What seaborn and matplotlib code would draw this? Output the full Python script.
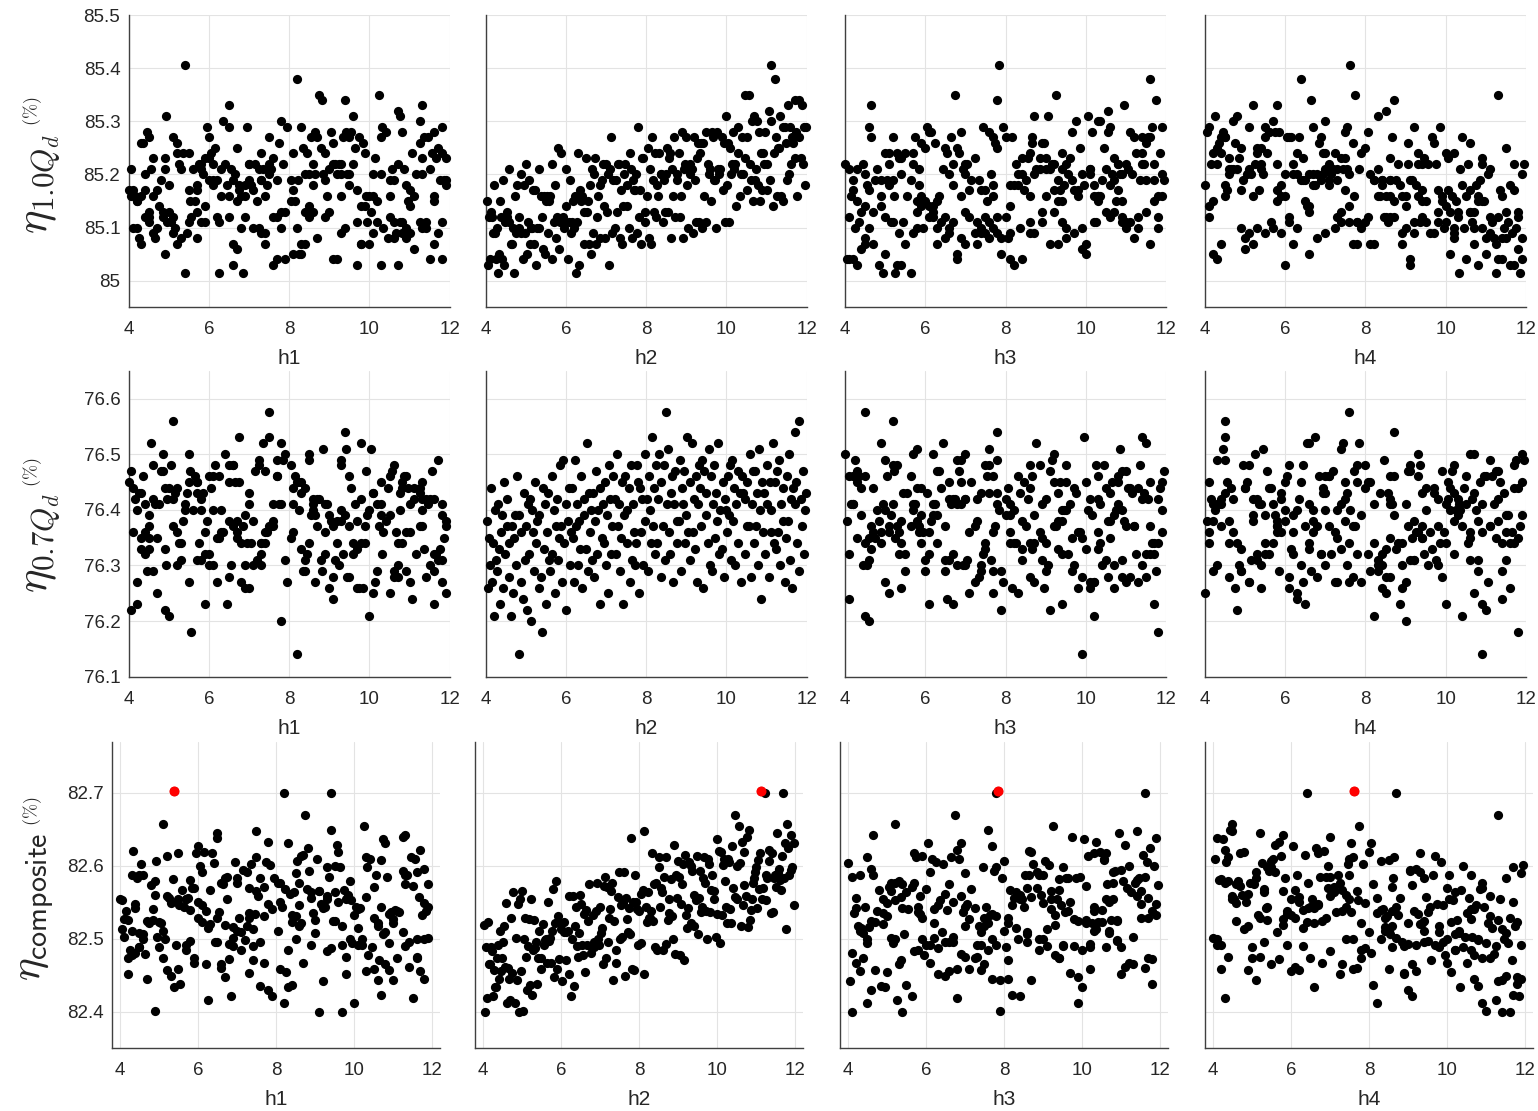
import numpy as np
import pandas as pd
import matplotlib
matplotlib.use("Agg")
import matplotlib.pyplot as plt
import seaborn as sns

# ---- sample data (one row per design sample) ----
h1 = [6.7, 9.7, 4.5, 11.5, 8.4, 6.2, 10.8, 5.0, 9.3, 7.9,
      10.9, 5.40, 8.3, 4.2, 8.9, 11.8, 7.0, 10.3, 5.9, 7.6,
      8.6, 11.4, 5.3, 10.0, 6.6, 4.7, 6.25, 10.5, 7.3, 9.5,
      8.2, 6.9, 11.0, 4.4, 9.1, 5.7, 11.7, 7.5, 4.9, 10.2,
      6.0, 9.8, 7.8, 11.3, 4.1, 8.4, 5.5, 10.7, 7.1, 9.0,
      9.4, 6.5, 5.55, 11.1, 4.3, 8.1, 11.6, 6.3, 10.1, 7.2,
      4.6, 7.7, 9.6, 5.8, 11.9, 8.7, 5.1, 8.8, 6.7, 10.6,
      9.9, 5.5, 8.5, 6.8, 11.0, 4.05, 9.2, 11.25, 6.1, 7.4,
      10.8, 8.05, 4.2, 9.3, 6.85, 11.8, 5.2, 7.6, 9.7, 5.65,
      6.9, 11.6, 9.0, 4.9, 7.8, 10.2, 4.3, 10.9, 8.25, 5.8,
      5.45, 9.5, 11.9, 7.4, 4.4, 10.0, 6.45, 10.45, 6.2, 8.6,
      8.5, 5.7, 10.7, 4.5, 10.1, 6.6, 11.5, 9.35, 5.1, 7.7,
      11.4, 7.3, 4.85, 9.1, 7.0, 10.6, 4.7, 8.3, 5.9, 10.3,
      6.1, 9.9, 8.6, 4.1, 11.8, 7.25, 5.3, 8.9, 11.0, 7.1,
      9.2, 4.6, 6.5, 10.5, 8.1, 5.2, 11.3, 6.0, 7.9, 9.7,
      4.15, 8.35, 10.9, 6.3, 9.8, 7.5, 11.9, 5.0, 8.9, 6.5,
      7.05, 11.1, 5.5, 9.45, 11.3, 4.5, 8.05, 5.7, 7.5, 9.65,
      10.05, 5.9, 8.45, 4.25, 10.85, 6.8, 11.45, 4.85, 9.3, 7.3,
      5.35, 7.7, 11.6, 9.55, 4.65, 10.55, 5.75, 8.55, 6.75, 10.35,
      9.15, 6.65, 4.55, 10.65, 8.7, 11.75, 6.25, 10.15, 7.75, 5.05,
      6.05, 11.25, 7.25, 9.85, 4.05, 8.65, 10.75, 5.25, 8.85, 6.55,
      8.15, 4.45, 10.3, 6.6, 11.85, 5.15, 9.05, 7.35, 11.15, 5.6,
      11.35, 6.75, 9.1, 4.95, 10.75, 7.45, 4.35, 9.95, 6.15, 8.4,
      7.85, 10.4, 4.9, 9.25, 4.75, 11.55, 6.95, 10.1, 8.65, 6.0,
      5.85, 8.75, 11.65, 4.0, 9.5, 10.25, 6.4, 10.6, 7.8, 5.52,
      9.6, 4.8, 7.55, 11.25, 6.9, 9.42, 4.2, 11.05, 5.7, 8.1,
      7.0, 11.6, 9.3, 4.4, 10.7, 8.22, 6.35, 5.40, 9.8, 7.3,
      8.20, 4.5, 9.92, 6.7, 11.7, 4.92, 8.95, 5.95, 10.95, 7.95,
      4.3, 10.5, 6.5, 8.5, 11.8, 5.8, 9.75, 5.2, 9.40, 7.6,
      10.8, 7.4, 5.10, 8.82, 4.6, 11.3, 7.15, 10.32, 6.1, 8.3]

h2 = [4.02, 4.05, 4.07, 4.10, 4.13, 4.15, 4.18, 4.21, 4.23, 4.26,
      4.28, 4.30, 4.33, 4.36, 4.38, 4.41, 4.44, 4.46, 4.49, 4.52,
      4.54, 4.57, 4.59, 4.62, 4.65, 4.67, 4.70, 4.73, 4.75, 4.78,
      4.82, 4.84, 4.87, 4.89, 4.92, 4.95, 4.97, 5.00, 5.03, 5.05,
      5.08, 5.10, 5.13, 5.16, 5.18, 5.21, 5.24, 5.26, 5.29, 5.32,
      5.34, 5.37, 5.40, 5.42, 5.45, 5.48, 5.50, 5.53, 5.56, 5.58,
      5.61, 5.64, 5.66, 5.69, 5.72, 5.74, 5.77, 5.80, 5.82, 5.85,
      5.88, 5.91, 5.93, 5.96, 5.99, 6.01, 6.04, 6.07, 6.09, 6.12,
      6.14, 6.17, 6.20, 6.22, 6.25, 6.28, 6.30, 6.33, 6.36, 6.38,
      6.41, 6.44, 6.46, 6.49, 6.52, 6.54, 6.57, 6.60, 6.62, 6.65,
      6.68, 6.70, 6.73, 6.76, 6.78, 6.81, 6.84, 6.86, 6.89, 6.92,
      6.94, 6.97, 7.00, 7.02, 7.05, 7.08, 7.10, 7.13, 7.16, 7.18,
      7.21, 7.24, 7.26, 7.29, 7.32, 7.34, 7.37, 7.40, 7.42, 7.45,
      7.48, 7.51, 7.53, 7.56, 7.59, 7.61, 7.64, 7.67, 7.69, 7.72,
      7.74, 7.77, 7.80, 7.82, 7.85, 7.88, 7.90, 7.93, 7.96, 7.98,
      8.01, 8.04, 8.06, 8.09, 8.12, 8.14, 8.17, 8.20, 8.22, 8.25,
      8.28, 8.30, 8.33, 8.36, 8.38, 8.41, 8.44, 8.46, 8.50, 8.52,
      8.54, 8.57, 8.60, 8.62, 8.65, 8.68, 8.70, 8.73, 8.76, 8.78,
      8.81, 8.84, 8.86, 8.89, 8.92, 8.94, 8.97, 9.00, 9.02, 9.05,
      9.08, 9.10, 9.13, 9.16, 9.18, 9.21, 9.24, 9.26, 9.29, 9.32,
      9.34, 9.37, 9.40, 9.42, 9.45, 9.48, 9.50, 9.53, 9.56, 9.58,
      9.61, 9.64, 9.66, 9.69, 9.72, 9.74, 9.77, 9.80, 9.82, 9.85,
      9.88, 9.91, 9.93, 9.96, 9.99, 10.01, 10.04, 10.07, 10.09, 10.12,
      10.14, 10.17, 10.20, 10.22, 10.25, 10.28, 10.30, 10.33, 10.36, 10.38,
      10.41, 10.45, 10.47, 10.50, 10.52, 10.55, 10.58, 10.60, 10.63, 10.66,
      10.68, 10.70, 10.73, 10.76, 10.78, 10.81, 10.84, 10.86, 10.89, 10.92,
      10.94, 10.97, 11.00, 11.02, 11.05, 11.08, 11.10, 11.12, 11.15, 11.18,
      11.22, 11.24, 11.26, 11.29, 11.32, 11.34, 11.37, 11.40, 11.42, 11.45,
      11.48, 11.50, 11.53, 11.56, 11.58, 11.61, 11.64, 11.66, 11.70, 11.72,
      11.74, 11.77, 11.80, 11.82, 11.85, 11.88, 11.90, 11.93, 11.96, 11.98]

h3 = [9.3, 5.4, 10.6, 6.8, 4.7, 11.3, 7.5, 10.2, 5.7, 8.4,
      7.4, 4.95, 10.0, 11.7, 6.1, 8.1, 10.7, 4.3, 9.4, 6.5,
      7.0, 11.1, 9.0, 4.5, 11.6, 7.7, 5.25, 5.9, 9.7, 8.3,
      9.9, 6.2, 8.7, 11.9, 4.1, 10.6, 6.6, 9.2, 7.9, 5.2,
      11.5, 7.3, 4.6, 9.5, 7.1, 5.5, 10.8, 8.2, 5.8, 10.1,
      6.3, 8.6, 11.8, 4.4, 10.3, 6.8, 9.4, 4.9, 7.4, 10.9,
      9.0, 4.2, 6.7, 10.9, 5.1, 11.2, 8.0, 6.0, 9.9, 7.6,
      5.3, 10.2, 7.8, 11.8, 6.2, 9.1, 4.05, 6.4, 10.4, 8.1,
      8.6, 4.3, 11.0, 6.9, 5.65, 8.9, 11.4, 4.85, 7.5, 10.3,
      9.8, 7.0, 4.4, 8.4, 11.5, 6.0, 9.3, 7.7, 5.0, 10.5,
      7.8, 10.9, 5.4, 9.1, 4.1, 11.9, 6.7, 8.05, 9.65, 5.7,
      4.5, 9.5, 7.0, 10.7, 8.3, 5.3, 10.1, 11.6, 7.25, 5.65,
      6.6, 11.7, 9.2, 5.1, 10.8, 7.9, 4.6, 10.0, 6.1, 8.7,
      10.8, 5.9, 8.2, 11.3, 5.0, 8.85, 6.5, 4.2, 9.8, 7.4,
      5.4, 8.6, 11.9, 7.1, 9.7, 4.7, 9.0, 10.7, 6.2, 7.3,
      10.3, 6.5, 4.5, 9.4, 6.3, 11.4, 8.5, 10.5, 5.5, 7.5,
      8.1, 11.8, 5.7, 9.9, 6.6, 11.0, 5.2, 8.9, 4.5, 7.8,
      5.8, 8.85, 11.25, 7.6, 4.1, 10.2, 6.65, 10.9, 8.4, 4.9,
      9.4, 5.0, 7.7, 11.1, 6.9, 4.3, 11.7, 8.0, 9.95, 5.95,
      7.05, 10.65, 8.75, 5.35, 11.55, 9.3, 4.35, 7.25, 6.25, 10.25,
      11.85, 7.75, 4.25, 8.95, 6.35, 10.15, 5.45, 8.25, 10.85, 6.95,
      7.55, 9.65, 5.75, 11.35, 4.75, 8.35, 10.55, 6.45, 9.55, 4.8,
      4.65, 9.35, 11.5, 6.7, 10.05, 5.85, 8.65, 5.15, 10.45, 7.65,
      9.15, 6.15, 11.05, 4.45, 8.1, 6.85, 11.65, 5.55, 10.1, 7.7,
      11.15, 6.75, 5.35, 8.45, 11.2, 9.25, 4.0, 7.35, 10.35, 6.3,
      8.7, 11.95, 5.85, 9.75, 4.55, 7.6, 10.75, 6.55, 9.2, 5.1,
      11.45, 6.1, 9.5, 4.2, 10.55, 7.15, 10.3, 7.85, 4.9, 8.6,
      11.6, 8.65, 5.22, 9.85, 6.8, 9.05, 4.15, 10.6, 5.8, 7.95,
      8.9, 5.05, 10.95, 7.0, 4.6, 11.4, 8.15, 5.9, 7.80, 9.6,
      6.9, 10.35, 5.20, 11.75, 8.55, 4.65, 11.0, 7.45, 9.45, 6.05]

h4 = [5.8, 11.6, 8.6, 4.3, 10.1, 7.3, 5.5, 10.4, 7.0, 9.1,
      4.9, 10.33, 6.6, 10.9, 4.1, 11.9, 8.4, 6.0, 7.8, 9.4,
      9.8, 6.1, 4.6, 8.2, 7.7, 10.7, 11.25, 5.2, 8.9, 7.1,
      10.9, 8.7, 5.1, 6.7, 11.4, 4.5, 9.2, 5.8, 11.0, 7.4,
      6.9, 4.4, 9.0, 6.3, 10.6, 8.1, 7.5, 11.7, 10.2, 5.4,
      7.9, 9.9, 11.8, 5.0, 8.5, 4.2, 6.5, 9.3, 5.9, 10.8,
      8.3, 10.5, 6.2, 9.5, 4.0, 6.8, 10.3, 5.3, 11.8, 7.8,
      4.4, 7.6, 11.1, 5.7, 9.0, 4.8, 11.3, 8.0, 6.4, 9.6,
      5.65, 9.4, 7.25, 4.5, 11.85, 10.0, 7.0, 10.8, 4.9, 8.7,
      8.9, 5.2, 11.5, 7.4, 6.6, 4.2, 10.7, 5.9, 10.1, 8.3,
      9.7, 6.8, 4.6, 11.25, 8.05, 6.0, 8.85, 5.0, 7.3, 10.9,
      7.6, 11.9, 5.4, 10.3, 6.3, 9.1, 4.7, 6.9, 11.1, 8.6,
      5.3, 8.4, 10.6, 7.1, 4.3, 11.4, 9.4, 7.8, 10.0, 6.2,
      9.3, 4.1, 6.7, 10.45, 7.9, 5.1, 11.5, 8.2, 5.8, 9.8,
      6.6, 10.2, 4.1, 8.5, 11.7, 6.2, 7.5, 4.85, 10.7, 9.2,
      8.6, 4.9, 11.0, 7.3, 8.9, 4.5, 6.5, 11.8, 10.2, 6.1,
      11.6, 5.9, 9.3, 4.6, 8.1, 9.8, 6.45, 10.6, 7.6, 5.4,
      7.4, 10.9, 5.3, 10.2, 7.0, 9.0, 4.4, 11.3, 6.0, 8.2,
      4.2, 8.45, 10.8, 5.6, 11.2, 7.2, 8.8, 5.5, 6.75, 9.95,
      9.75, 5.05, 7.85, 11.65, 6.35, 8.75, 11.15, 6.45, 4.35, 9.35,
      6.95, 9.05, 11.75, 4.75, 10.15, 5.75, 8.55, 10.55, 5.45, 7.55,
      10.95, 5.85, 8.65, 4.95, 9.15, 11.45, 4.05, 7.45, 7.15, 10.35,
      6.15, 10.05, 7.7, 10.65, 4.25, 9.25, 6.85, 11.55, 8.0, 5.15,
      11.95, 7.5, 4.65, 9.55, 6.6, 5.55, 9.85, 8.35, 11.05, 6.05,
      6.95, 11.3, 9.45, 4.55, 10.4, 7.75, 5.25, 8.6, 5.7, 9.9,
      4.8, 9.1, 11.1, 7.0, 8.4, 4.45, 10.25, 6.3, 11.35, 7.25,
      9.4, 5.6, 11.7, 5.35, 8.5, 10.85, 4.7, 7.62, 6.55, 10.0,
      6.40, 9.65, 7.72, 11.5, 4.3, 8.3, 10.5, 6.7, 9.5, 5.1,
      10.6, 7.1, 5.2, 11.9, 9.2, 4.15, 6.1, 9.7, 8.70, 8.62,
      8.05, 11.4, 4.50, 6.65, 10.05, 5.8, 9.05, 5.5, 10.75, 7.55]

eta_10 = [85.15, 85.03, 85.12, 85.04, 85.13, 85.12, 85.09, 85.18, 85.09, 85.04,
          85.10, 85.015, 85.05, 85.15, 85.12, 85.04, 85.19, 85.03, 85.11, 85.12,
          85.13, 85.11, 85.21, 85.07, 85.07, 85.10, 85.015, 85.16, 85.09, 85.18,
          85.10, 85.12, 85.09, 85.20, 85.04, 85.18, 85.09, 85.22, 85.05, 85.11,
          85.19, 85.07, 85.10, 85.10, 85.17, 85.07, 85.17, 85.03, 85.10, 85.21,
          85.10, 85.16, 85.12, 85.06, 85.16, 85.05, 85.15, 85.16, 85.09, 85.15,
          85.16, 85.04, 85.22, 85.11, 85.18, 85.08, 85.12, 85.25, 85.06, 85.11,
          85.24, 85.11, 85.12, 85.10, 85.14, 85.21, 85.04, 85.11, 85.19, 85.09,
          85.11, 85.15, 85.10, 85.16, 85.015, 85.11, 85.24, 85.03, 85.17, 85.15,
          85.16, 85.07, 85.13, 85.23, 85.13, 85.15, 85.07, 85.18, 85.05, 85.21,
          85.09, 85.20, 85.23, 85.07, 85.12, 85.16, 85.18, 85.08, 85.19, 85.22,
          85.14, 85.08, 85.22, 85.13, 85.20, 85.03, 85.21, 85.27, 85.09, 85.19,
          85.10, 85.19, 85.13, 85.22, 85.22, 85.08, 85.17, 85.07, 85.14, 85.20,
          85.22, 85.14, 85.18, 85.10, 85.24, 85.21, 85.08, 85.19, 85.17, 85.17,
          85.20, 85.09, 85.29, 85.12, 85.17, 85.07, 85.23, 85.23, 85.13, 85.11,
          85.16, 85.25, 85.08, 85.21, 85.07, 85.27, 85.19, 85.13, 85.24, 85.12,
          85.18, 85.16, 85.24, 85.20, 85.20, 85.11, 85.19, 85.13, 85.20, 85.25,
          85.13, 85.23, 85.24, 85.08, 85.21, 85.16, 85.27, 85.12, 85.20, 85.19,
          85.24, 85.12, 85.16, 85.28, 85.08, 85.21, 85.22, 85.27, 85.18, 85.10,
          85.22, 85.20, 85.21, 85.09, 85.27, 85.19, 85.11, 85.23, 85.26, 85.11,
          85.24, 85.26, 85.10, 85.26, 85.16, 85.28, 85.11, 85.22, 85.20, 85.21,
          85.15, 85.28, 85.27, 85.19, 85.19, 85.10, 85.28, 85.21, 85.20, 85.21,
          85.27, 85.17, 85.26, 85.11, 85.31, 85.18, 85.26, 85.11, 85.25, 85.20,
          85.22, 85.28, 85.21, 85.22, 85.14, 85.24, 85.29, 85.16, 85.20, 85.27,
          85.20, 85.35, 85.23, 85.17, 85.27, 85.35, 85.22, 85.19, 85.30, 85.15,
          85.31, 85.19, 85.21, 85.30, 85.18, 85.28, 85.15, 85.24, 85.17, 85.24,
          85.22, 85.28, 85.22, 85.17, 85.32, 85.19, 85.30, 85.405, 85.14, 85.24,
          85.38, 85.27, 85.16, 85.25, 85.25, 85.31, 85.16, 85.29, 85.15, 85.29,
          85.26, 85.19, 85.33, 85.20, 85.29, 85.22, 85.27, 85.26, 85.34, 85.23,
          85.28, 85.16, 85.27, 85.34, 85.23, 85.33, 85.22, 85.29, 85.18, 85.29]

eta_07 = [76.38, 76.26, 76.35, 76.30, 76.44, 76.27, 76.34, 76.21, 76.40, 76.31,
          76.29, 76.41, 76.33, 76.23, 76.36, 76.39, 76.26, 76.45, 76.32, 76.37,
          76.42, 76.28, 76.34, 76.21, 76.37, 76.25, 76.35, 76.39, 76.30, 76.46,
          76.14, 76.39, 76.27, 76.36, 76.24, 76.43, 76.31, 76.37, 76.22, 76.41,
          76.32, 76.42, 76.20, 76.40, 76.36, 76.29, 76.45, 76.34, 76.38, 76.26,
          76.39, 76.28, 76.18, 76.44, 76.33, 76.41, 76.23, 76.36, 76.43, 76.31,
          76.29, 76.46, 76.32, 76.40, 76.25, 76.37, 76.42, 76.31, 76.35, 76.48,
          76.37, 76.27, 76.49, 76.34, 76.41, 76.22, 76.38, 76.44, 76.30, 76.36,
          76.44, 76.35, 76.27, 76.49, 76.37, 76.41, 76.30, 76.38, 76.33, 76.46,
          76.26, 76.42, 76.39, 76.33, 76.52, 76.29, 76.43, 76.36, 76.40, 76.31,
          76.43, 76.28, 76.38, 76.47, 76.32, 76.40, 76.23, 76.44, 76.35, 76.41,
          76.34, 76.45, 76.30, 76.39, 76.25, 76.48, 76.42, 76.32, 76.37, 76.46,
          76.42, 76.32, 76.50, 76.37, 76.41, 76.29, 76.35, 76.45, 76.23, 76.39,
          76.46, 76.34, 76.40, 76.44, 76.27, 76.48, 76.31, 76.41, 76.36, 76.30,
          76.34, 76.48, 76.45, 76.25, 76.44, 76.36, 76.42, 76.30, 76.50, 76.38,
          76.42, 76.29, 76.46, 76.40, 76.34, 76.53, 76.37, 76.44, 76.32, 76.48,
          76.34, 76.42, 76.50, 76.28, 76.45, 76.37, 76.48, 76.31, 76.575, 76.41,
          76.51, 76.36, 76.32, 76.43, 76.46, 76.27, 76.41, 76.47, 76.38, 76.34,
          76.38, 76.49, 76.29, 76.44, 76.41, 76.47, 76.34, 76.39, 76.53, 76.36,
          76.31, 76.45, 76.52, 76.36, 76.42, 76.33, 76.46, 76.27, 76.41, 76.48,
          76.44, 76.37, 76.49, 76.26, 76.47, 76.39, 76.43, 76.34, 76.51, 76.30,
          76.46, 76.29, 76.41, 76.48, 76.35, 76.43, 76.38, 76.52, 76.32, 76.40,
          76.33, 76.45, 76.28, 76.42, 76.40, 76.36, 76.46, 76.39, 76.48, 76.31,
          76.49, 76.38, 76.44, 76.30, 76.41, 76.47, 76.34, 76.43, 76.27, 76.46,
          76.43, 76.42, 76.32, 76.45, 76.37, 76.37, 76.50, 76.28, 76.41, 76.47,
          76.34, 76.47, 76.37, 76.43, 76.30, 76.51, 76.40, 76.24, 76.45, 76.36,
          76.43, 76.32, 76.48, 76.41, 76.28, 76.45, 76.36, 76.40, 76.52, 76.34,
          76.45, 76.33, 76.47, 76.36, 76.49, 76.30, 76.41, 76.38, 76.44, 76.27,
          76.35, 76.46, 76.38, 76.50, 76.31, 76.42, 76.26, 76.44, 76.54, 76.41,
          76.45, 76.34, 76.56, 76.29, 76.42, 76.37, 76.47, 76.32, 76.40, 76.43]

eta_comp = [82.519, 82.399, 82.489, 82.418, 82.523, 82.465, 82.465, 82.489, 82.483, 82.421,
            82.457, 82.434, 82.434, 82.474, 82.492, 82.445, 82.511, 82.456, 82.473, 82.495,
            82.517, 82.461, 82.549, 82.412, 82.460, 82.445, 82.416, 82.529, 82.453, 82.564,
            82.412, 82.501, 82.444, 82.548, 82.400, 82.555, 82.456, 82.565, 82.401, 82.500,
            82.529, 82.475, 82.430, 82.490, 82.527, 82.436, 82.554, 82.423, 82.484, 82.525,
            82.487, 82.496, 82.438, 82.474, 82.511, 82.458, 82.474, 82.520, 82.492, 82.498,
            82.499, 82.466, 82.550, 82.497, 82.501, 82.467, 82.510, 82.568, 82.447, 82.521,
            82.579, 82.458, 82.531, 82.472, 82.521, 82.513, 82.442, 82.509, 82.523, 82.471,
            82.509, 82.510, 82.451, 82.559, 82.422, 82.500, 82.558, 82.435, 82.518, 82.543,
            82.490, 82.475, 82.508, 82.560, 82.547, 82.492, 82.478, 82.534, 82.455, 82.540,
            82.492, 82.524, 82.575, 82.490, 82.480, 82.532, 82.495, 82.488, 82.538, 82.577,
            82.500, 82.491, 82.544, 82.508, 82.515, 82.465, 82.573, 82.585, 82.474, 82.571,
            82.496, 82.529, 82.541, 82.565, 82.577, 82.443, 82.524, 82.484, 82.467, 82.557,
            82.592, 82.500, 82.546, 82.502, 82.549, 82.591, 82.449, 82.556, 82.527, 82.509,
            82.542, 82.507, 82.638, 82.459, 82.551, 82.457, 82.587, 82.551, 82.541, 82.491,
            82.538, 82.562, 82.494, 82.567, 82.451, 82.648, 82.544, 82.523, 82.564, 82.528,
            82.528, 82.538, 82.618, 82.524, 82.575, 82.488, 82.577, 82.484, 82.612, 82.598,
            82.544, 82.569, 82.564, 82.485, 82.585, 82.493, 82.612, 82.525, 82.554, 82.535,
            82.582, 82.531, 82.499, 82.628, 82.479, 82.588, 82.556, 82.606, 82.585, 82.478,
            82.547, 82.575, 82.603, 82.471, 82.615, 82.532, 82.515, 82.542, 82.605, 82.521,
            82.600, 82.593, 82.517, 82.560, 82.553, 82.613, 82.506, 82.556, 82.593, 82.537,
            82.543, 82.583, 82.612, 82.577, 82.538, 82.499, 82.610, 82.603, 82.536, 82.567,
            82.588, 82.554, 82.566, 82.503, 82.637, 82.534, 82.620, 82.494, 82.619, 82.533,
            82.601, 82.610, 82.579, 82.544, 82.521, 82.609, 82.605, 82.541, 82.521, 82.627,
            82.569, 82.670, 82.557, 82.554, 82.600, 82.655, 82.604, 82.517, 82.633, 82.546,
            82.619, 82.574, 82.558, 82.639, 82.516, 82.649, 82.525, 82.540, 82.554, 82.576,
            82.583, 82.592, 82.598, 82.542, 82.608, 82.568, 82.618, 82.703, 82.554, 82.570,
            82.700, 82.588, 82.553, 82.583, 82.622, 82.607, 82.535, 82.617, 82.537, 82.584,
            82.587, 82.571, 82.645, 82.590, 82.596, 82.580, 82.567, 82.614, 82.700, 82.584,
            82.631, 82.514, 82.657, 82.625, 82.587, 82.642, 82.595, 82.599, 82.546, 82.632]

x_names = ["h1", "h2", "h3", "h4"]
y_names = ["eta10", "eta07", "etac"]
y_labels = [r"$\eta_{1.0Q_d}$", r"$\eta_{0.7Q_d}$", r"$\eta_{\mathsf{composite}}$"]
y_ticks = [[85.0, 85.1, 85.2, 85.3, 85.4, 85.5],
           [76.1, 76.2, 76.3, 76.4, 76.5, 76.6],
           [82.4, 82.5, 82.6, 82.7]]
x_ticks = [4, 6, 8, 10, 12]

# ---- style ----
sns.set_style("white")
plt.rcParams["font.family"] = ["Liberation Sans", "DejaVu Sans"]
plt.rcParams["mathtext.fontset"] = "cm"

df = pd.DataFrame({"h1": h1, "h2": h2, "h3": h3, "h4": h4,
                   "eta10": eta_10, "eta07": eta_07, "etac": eta_comp})
best = int(np.argmax(df["etac"].values))
df_best = df.iloc[[best]]

W, H = 1538, 1111
fig = plt.figure(figsize=(W / 100, H / 100), dpi=100)

row_box = [(15.0, 307.3), (370.7, 676.7), (742.0, 1048.0)]   # top, bottom (px)
col_left = [[128.7, 485.7, 845.0, 1205.0],
            [128.7, 485.7, 845.0, 1205.0],
            [112.0, 475.0, 840.0, 1205.0]]
col_width = [321.0, 321.0, 328.0]
ylims = [(84.95, 85.5), (76.1, 76.65), (82.35, 82.77)]
xlims = [(4, 12), (4, 12), (3.8, 12.2)]
label_pos = [(-0.267, 0.42), (-0.267, 0.435), (-0.232, 0.46)]
label_size = [32, 32, 31]
pct_pos = [(-0.298, 0.672), (-0.298, 0.668), (-0.241, 0.772)]

axis_col = "#404040"
text_col = "#262626"

for r in range(3):
    top, bot = row_box[r]
    for c in range(4):
        left = col_left[r][c]
        ax = fig.add_axes([left / W, 1 - bot / H, col_width[r] / W, (bot - top) / H])
        sns.scatterplot(data=df, x=x_names[c], y=y_names[r], ax=ax, color="black",
                        s=44, linewidth=0, clip_on=False, legend=False, zorder=3)
        if r == 2:
            sns.scatterplot(data=df_best, x=x_names[c], y=y_names[r], ax=ax,
                            color="#ff0000", s=52, linewidth=0, clip_on=False,
                            legend=False, zorder=4)
        ax.set_xlim(*xlims[r])
        ax.set_ylim(*ylims[r])
        ax.set_xticks(x_ticks)
        ax.set_yticks(y_ticks[r])
        ax.set_yticklabels(["%g" % v for v in y_ticks[r]])
        ax.grid(True, color="#e3e3e3", linewidth=0.8)
        ax.set_axisbelow(True)
        for s in ["top", "right"]:
            ax.spines[s].set_visible(False)
        for s in ["left", "bottom"]:
            ax.spines[s].set_color(axis_col)
            ax.spines[s].set_linewidth(1.0)
        ax.tick_params(axis="both", direction="in", length=4, width=0.8,
                       colors=axis_col, labelcolor=text_col, labelsize=13.5)
        ax.tick_params(axis="x", pad=10)
        ax.tick_params(axis="y", pad=6)
        ax.set_xlabel(x_names[c], fontsize=15, color=text_col, labelpad=8)
        if c == 0:
            ax.set_ylabel(y_labels[r], fontsize=label_size[r], color=text_col)
            ax.yaxis.set_label_coords(*label_pos[r])
            ax.yaxis.label.set_verticalalignment("center")
            ax.text(pct_pos[r][0], pct_pos[r][1], r"$(\%)$", transform=ax.transAxes,
                    rotation=90, ha="center", va="center", fontsize=13, color=text_col)
        else:
            ax.set_ylabel("")
            ax.tick_params(axis="y", labelleft=False)

fig.savefig("out.png", dpi=100, facecolor="white")
